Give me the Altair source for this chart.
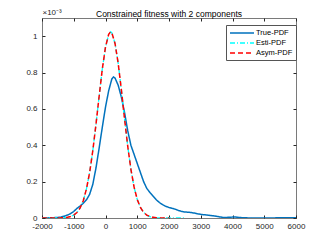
import altair as alt
import pandas as pd

# ---- data (density values in units of 1e-3) ----
gauss_x = [-2000, -1800, -1600, -1500, -1400, -1300, -1200, -1100, -1000, -900, -800,
           -700, -600, -500, -400, -300, -200, -100, 0, 100, 160, 200, 300, 400, 500,
           600, 700, 800, 900, 1000, 1100, 1200, 1300, 1400, 1500, 1600, 1700, 1800,
           1900, 2000]
gauss_y = [0, 0, 0.0001, 0.0003, 0.0008, 0.002, 0.004, 0.008, 0.016, 0.030, 0.055,
           0.095, 0.160, 0.250, 0.370, 0.515, 0.670, 0.820, 0.940, 1.010, 1.024, 1.018,
           0.960, 0.850, 0.705, 0.545, 0.395, 0.268, 0.170, 0.102, 0.058, 0.031, 0.016,
           0.008, 0.0035, 0.0015, 0.0006, 0.0002, 0.0001, 0]
esti_extra_x = [2100, 2300, 2500]
esti_extra_y = [0, 0, 0]

true_x = [-2000, -1700, -1500, -1400, -1300, -1200, -1100, -1000, -900, -800, -700,
          -600, -500, -400, -300, -200, -100, 0, 100, 200, 250, 300, 400, 500, 600,
          700, 800, 900, 1000, 1100, 1200, 1300, 1400, 1500, 1600, 1700, 1800, 1900,
          2000, 2100, 2200, 2300, 2400, 2500, 2600, 2700, 2800, 2900, 3000, 3100, 3200,
          3300, 3400, 3500, 3600, 3700, 3800, 3900, 4000, 4100, 4200, 4400, 4600, 5000,
          5500, 6000]
true_y = [0, 0.001, 0.003, 0.005, 0.010, 0.016, 0.024, 0.036, 0.053, 0.066, 0.081,
          0.100, 0.130, 0.185, 0.275, 0.385, 0.500, 0.610, 0.700, 0.765, 0.776, 0.770,
          0.730, 0.665, 0.580, 0.480, 0.400, 0.350, 0.300, 0.250, 0.200, 0.163, 0.140,
          0.120, 0.100, 0.085, 0.073, 0.064, 0.058, 0.053, 0.048, 0.041, 0.036, 0.033,
          0.032, 0.030, 0.027, 0.023, 0.020, 0.018, 0.016, 0.014, 0.012, 0.009, 0.006,
          0.003, 0.003, 0.004, 0.005, 0.005, 0.003, 0.001, 0.0, 0.0, 0.001, 0.002]

series_names = ["True-PDF", "Esti-PDF", "Asym-PDF"]
series_colors = ["#0072BD", "#00FFFF", "#FF0000"]
series_dash = [[1, 0], [5, 2, 1, 2], [5, 3]]
x_ticks = [-2000, -1000, 0, 1000, 2000, 3000, 4000, 5000, 6000]
y_ticks = [0, 0.2, 0.4, 0.6, 0.8, 1.0]

rows = []
for xv, yv in zip(true_x, true_y):
    rows.append({"x": xv, "y": yv, "series": "True-PDF"})
for xv, yv in zip(gauss_x + esti_extra_x, gauss_y + esti_extra_y):
    rows.append({"x": xv, "y": yv, "series": "Esti-PDF"})
for xv, yv in zip(gauss_x, gauss_y):
    rows.append({"x": xv, "y": yv, "series": "Asym-PDF"})
df = pd.DataFrame(rows)

FONT = "Liberation Sans"
AX = "#262626"
xscale = alt.Scale(domain=[-2000, 6000], nice=False, zero=False)
yscale = alt.Scale(domain=[0, 1.1], nice=False)
cscale = alt.Scale(domain=series_names, range=series_colors)
dscale = alt.Scale(domain=series_names, range=series_dash)
legend = alt.Legend(title=None, orient="none", legendX=184, legendY=7,
                    symbolType="M-1,0H5", symbolSize=64, symbolStrokeWidth=1.5,
                    labelFontSize=7.5, labelFont=FONT, labelColor="#000",
                    fillColor="white", strokeColor="#555", padding=3,
                    rowPadding=1, labelOffset=17)

base = alt.Chart(df)


def series_layer(name, with_axes):
    xa = alt.Axis(values=x_ticks, labelExpr="datum.value + ''", ticks=False, domain=False,
                  grid=False, labelFontSize=8, labelFont=FONT, labelColor=AX,
                  labelPadding=4, labelFlush=False, labelOverlap=False, title=None,
                  orient="bottom") if with_axes else None
    ya = alt.Axis(values=y_ticks, format="~g", ticks=False, domain=False, grid=False,
                  labelFontSize=8, labelFont=FONT, labelColor=AX, labelPadding=5,
                  title="×10⁻³", titleAngle=0, titleX=0, titleY=-2, titleAlign="left",
                  titleBaseline="bottom", titleFontSize=8, titleFont=FONT,
                  titleFontWeight="normal", titleColor=AX,
                  orient="left") if with_axes else None
    return base.transform_filter(alt.datum.series == name).mark_line(
        strokeWidth=1.5 if name != "Esti-PDF" else 1.3, clip=True
    ).encode(
        x=alt.X("x:Q", scale=xscale, axis=xa),
        y=alt.Y("y:Q", scale=yscale, axis=ya),
        color=alt.Color("series:N", scale=cscale, legend=legend),
        strokeDash=alt.StrokeDash("series:N", scale=dscale, legend=legend),
    )


def tick_layer(channel, orient):
    if channel == "x":
        xa = alt.Axis(orient=orient, values=x_ticks, labels=False, domain=False, ticks=True,
                      tickSize=3, offset=-3, tickColor=AX, grid=False, title=None)
        ya = None
    else:
        ya = alt.Axis(orient=orient, values=y_ticks, labels=False, domain=False, ticks=True,
                      tickSize=3, offset=-3, tickColor=AX, grid=False, title=None)
        xa = None
    return base.mark_point(opacity=0).encode(
        x=alt.X("x:Q", scale=xscale, axis=xa),
        y=alt.Y("y:Q", scale=yscale, axis=ya),
    )


chart = alt.layer(
    tick_layer("x", "bottom"),
    tick_layer("x", "top"),
    tick_layer("y", "left"),
    tick_layer("y", "right"),
    series_layer("True-PDF", True),
    series_layer("Esti-PDF", False),
    series_layer("Asym-PDF", False),
).resolve_axis(x="independent", y="independent").properties(
    width=254, height=200,
    autosize=alt.AutoSizeParams(type="none"),
    padding={"left": 34, "top": 10, "right": 20, "bottom": 20},
    title=alt.TitleParams("Constrained fitness with 2 components", fontSize=8.5,
                          fontWeight="normal", font=FONT, color="#000",
                          anchor="middle", offset=-10),
).configure_view(stroke="#7a7a7a", strokeWidth=1)

chart.save("out.html", embed_options={"renderer": "svg", "actions": False})
